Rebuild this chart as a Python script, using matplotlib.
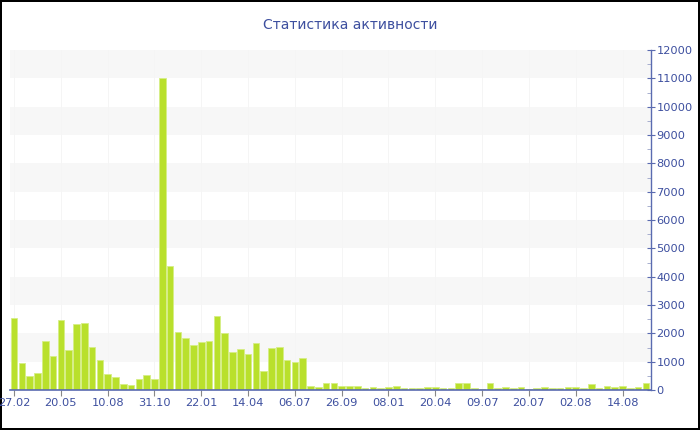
import numpy as np
import matplotlib
matplotlib.use("Agg")
import matplotlib.pyplot as plt
from matplotlib.ticker import MultipleLocator

# Data
values = [2540, 940, 495, 600, 1720, 1200, 2480, 1410, 2340, 2375,
          1510, 1050, 575, 450, 200, 190, 390, 540, 390, 11000,
          4380, 2035, 1845, 1575, 1680, 1740, 2620, 2000, 1330, 1435,
          1270, 1650, 670, 1480, 1530, 1050, 990, 1120, 155, 105,
          235, 235, 150, 145, 140, 80, 105, 85, 118, 140,
          85, 85, 70, 118, 105, 70, 70, 255, 260, 60,
          40, 250, 60, 100, 70, 118, 45, 80, 90, 60,
          60, 90, 90, 80, 212, 60, 125, 95, 125, 70,
          95, 255]
tick_labels = ["27.02", "20.05", "10.08", "31.10", "22.01", "14.04", "06.07",
               "26.09", "08.01", "20.04", "09.07", "20.07", "02.08", "14.08"]
title = "Статистика активности"

text_col = "#3d4f9f"
axis_col = "#5a6bb0"
bar_col = "#b9e02c"

fig = plt.figure(figsize=(7, 4.3), dpi=100)
fig.patch.set_facecolor("white")
fig.patch.set_edgecolor("black")
fig.patch.set_linewidth(1.5)

ax = fig.add_axes([10 / 700, 40 / 430, 641 / 700, 340 / 430])

x = np.arange(len(values))
ax.set_xlim(-0.52, len(values) - 0.35)
ax.set_ylim(0, 12000)

# alternating bands
for lo in range(1000, 12000, 2000):
    ax.axhspan(lo, lo + 1000, color="#f7f7f7", zorder=0, lw=0)

tick_pos = x[::6][:len(tick_labels)]
for p in tick_pos:
    ax.axvline(p, color="#f5f5f5", lw=0.7, zorder=0.5)

ax.bar(x, values, width=0.84, color=bar_col, edgecolor="#d6ee86",
       linewidth=0.6, zorder=2)

ax.set_xticks(tick_pos)
ax.set_xticklabels(tick_labels)
ax.yaxis.tick_right()
ax.yaxis.set_major_locator(MultipleLocator(1000))
ax.yaxis.set_minor_locator(MultipleLocator(500))

for s in ["left", "top"]:
    ax.spines[s].set_visible(False)
ax.spines["right"].set_color(axis_col)
ax.spines["bottom"].set_color(axis_col)
ax.spines["right"].set_linewidth(1)
ax.spines["bottom"].set_linewidth(1.2)

ax.tick_params(axis="y", which="major", direction="inout", length=6,
               color=axis_col, labelcolor=text_col, labelsize=8.2, pad=1)
ax.tick_params(axis="y", which="minor", direction="in", length=3,
               color="#9aa3c8")
ax.tick_params(axis="x", which="major", direction="out", length=4,
               color="#888888", labelcolor=text_col, labelsize=8.2, pad=2)

fig.text(0.5, 1 - 25 / 430, title, ha="center", va="center",
         color=text_col, fontsize=10)

fig.savefig("out.png", dpi=100)
